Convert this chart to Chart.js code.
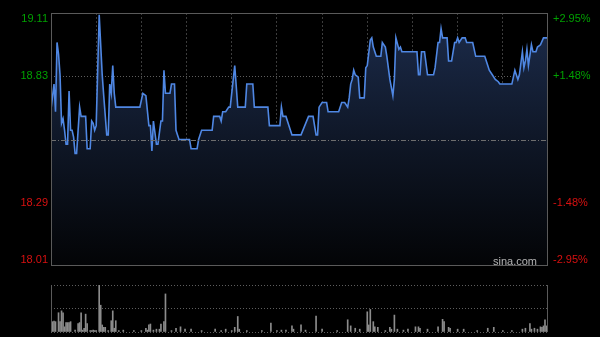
<!DOCTYPE html>
<html>
<head>
<meta charset="utf-8">
<script src="https://cdn.jsdelivr.net/npm/chart.js@4/dist/chart.umd.min.js"></script>
<style>
  html, body { margin: 0; padding: 0; background: #000; }
  body { width: 600px; height: 337px; position: relative; overflow: hidden; }
  canvas { position: absolute; left: 0; }
  #chart-price { top: 0; }
  #chart-volume { top: 278px; }
</style>
</head>
<body>
<canvas id="chart-price" width="600" height="272"></canvas>
<canvas id="chart-volume" width="600" height="59"></canvas>
<script>
// previous close and the +/- range shown on the axis
const prevClose = 18.56;
const rangePct = 0.0295;

// price line: minute of session (0 = 09:30, 330 = 16:00) and price
const priceMinutes = [
  0, 2, 3, 4, 5, 6, 7, 8, 9, 10,
  11, 12, 13, 14, 15, 16, 17, 19, 20, 23,
  24, 26, 27, 28, 29, 30, 32, 34, 35, 37,
  38, 39, 40, 41, 42, 43, 59, 61, 63, 65,
  66, 67, 68, 70, 71, 73, 74, 75, 76, 79,
  80, 82, 83, 84, 85, 92, 93, 97, 98, 100,
  107, 108, 112, 113, 114, 116, 118, 119, 122, 124,
  129, 130, 134, 135, 144, 145, 152, 153, 154, 156,
  158, 160, 166, 171, 174, 176, 177, 178, 180, 183,
  184, 191, 193, 195, 197, 198, 199, 200, 201, 202,
  204, 205, 208, 209, 210, 212, 213, 214, 216, 219,
  220, 222, 223, 225, 227, 228, 229, 231, 232, 233,
  243, 244, 245, 246, 248, 250, 254, 255, 257, 258,
  259, 260, 263, 264, 266, 268, 269, 270, 271, 273,
  275, 276, 280, 282, 288, 290, 291, 293, 295, 297,
  298, 306, 308, 310, 311, 313, 314, 315, 316, 317,
  319, 320, 322, 323, 325, 327, 330,
];
const prices = [
  18.69, 18.80, 18.68, 18.98, 18.93, 18.84, 18.63, 18.65, 18.60, 18.54,
  18.54, 18.77, 18.60, 18.60, 18.57, 18.50, 18.50, 18.70, 18.66, 18.66,
  18.52, 18.52, 18.64, 18.63, 18.60, 18.62, 19.10, 18.84, 18.75, 18.58,
  18.58, 18.80, 18.76, 18.88, 18.76, 18.70, 18.70, 18.76, 18.75, 18.62,
  18.62, 18.51, 18.64, 18.54, 18.54, 18.64, 18.64, 18.86, 18.76, 18.76,
  18.80, 18.80, 18.60, 18.58, 18.56, 18.56, 18.52, 18.52, 18.56, 18.60,
  18.60, 18.66, 18.66, 18.64, 18.68, 18.68, 18.70, 18.70, 18.88, 18.70,
  18.70, 18.80, 18.80, 18.70, 18.70, 18.62, 18.62, 18.70, 18.66, 18.66,
  18.62, 18.58, 18.58, 18.66, 18.66, 18.58, 18.58, 18.70, 18.72, 18.72,
  18.68, 18.68, 18.72, 18.72, 18.70, 18.74, 18.80, 18.82, 18.86, 18.84,
  18.83, 18.74, 18.74, 18.87, 18.88, 18.99, 19.00, 18.96, 18.92, 18.92,
  18.98, 18.96, 18.92, 18.82, 18.75, 18.82, 19.00, 18.95, 18.96, 18.94,
  18.94, 18.84, 18.84, 18.94, 18.94, 18.84, 18.84, 18.87, 18.98, 18.98,
  19.04, 19.00, 19.00, 18.90, 18.90, 18.98, 18.98, 19.00, 18.98, 19.00,
  19.00, 18.98, 18.98, 18.92, 18.92, 18.88, 18.86, 18.84, 18.82, 18.81,
  18.80, 18.80, 18.86, 18.82, 18.84, 18.94, 18.87, 18.90, 18.95, 18.88,
  18.97, 18.94, 18.94, 18.96, 18.97, 19.00, 19.00,
];

// volume bars (relative units, 100 = panel top)
const volMinutes = [
  1, 2, 3, 5, 6, 7, 8, 9, 10, 11,
  12, 13, 16, 18, 19, 20, 21, 22, 23, 24,
  26, 27, 28, 29, 30, 32, 33, 34, 35, 36,
  38, 40, 41, 42, 43, 45, 48, 55, 60, 63,
  64, 65, 66, 68, 70, 72, 73, 75, 76, 80,
  83, 86, 89, 93, 100, 109, 113, 116, 120, 122,
  124, 125, 130, 140, 146, 150, 153, 156, 160, 161,
  166, 169, 176, 180, 190, 197, 199, 202, 205, 210,
  211, 212, 214, 215, 217, 222, 225, 226, 228, 230,
  234, 237, 242, 244, 245, 250, 257, 260, 261, 264,
  265, 270, 274, 283, 290, 294, 300, 306, 313, 315,
  318, 319, 321, 323, 325, 326, 327, 328, 329, 330,
];
const volumes = [
  22, 23, 22, 41, 22, 45, 41, 11, 20, 20,
  20, 22, 4, 18, 20, 41, 4, 8, 38, 18,
  3, 3, 4, 3, 3, 100, 57, 15, 10, 10,
  3, 24, 45, 8, 24, 3, 4, 3, 3, 8,
  4, 15, 17, 4, 6, 6, 17, 22, 81, 3,
  8, 11, 6, 6, 3, 6, 3, 6, 3, 10,
  33, 6, 3, 3, 19, 3, 4, 4, 13, 6,
  15, 4, 34, 6, 3, 26, 13, 8, 6, 43,
  15, 48, 22, 11, 10, 3, 10, 6, 36, 6,
  4, 6, 11, 11, 8, 6, 11, 27, 22, 10,
  8, 6, 6, 3, 8, 10, 3, 3, 6, 8,
  18, 6, 8, 6, 11, 10, 13, 26, 13, 13,
];

// axis labels, top to bottom (middle line has no label)
const tickSteps = [1, 0.5, 0, -0.5, -1];
const leftLabels = ["19.11", "18.83", "", "18.29", "18.01"];
const rightLabels = ["+2.95%", "+1.48%", "", "-1.48%", "-2.95%"];

const tickValues = tickSteps.map((s) => prevClose * (1 + s * rangePct));
const priceMin = prevClose * (1 - rangePct);
const priceMax = prevClose * (1 + rangePct);

const UP = "#00a000";
const DOWN = "#d81010";
const FONT = "11px 'Liberation Sans', Arial, sans-serif";

const priceFrame = {
  id: "priceFrame",
  afterDatasetsDraw(chart) {
    const { ctx, chartArea: a, scales } = chart;
    // dash-dot line at previous close
    const yc = Math.round(scales.y.getPixelForValue(prevClose)) + 0.5;
    ctx.save();
    ctx.strokeStyle = "#6e6e6e";
    ctx.lineWidth = 1;
    ctx.setLineDash([5, 2, 1, 2]);
    ctx.beginPath();
    ctx.moveTo(a.left, yc);
    ctx.lineTo(a.right, yc);
    ctx.stroke();
    ctx.restore();
  },
  afterDraw(chart) {
    const { ctx, chartArea: a, scales } = chart;
    ctx.save();
    ctx.strokeStyle = "#5a5a5a";
    ctx.lineWidth = 1;
    ctx.strokeRect(a.left + 0.5, a.top + 0.5, a.right - a.left - 1, a.bottom - a.top - 1);

    ctx.font = FONT;
    ctx.textBaseline = "middle";
    tickValues.forEach((v, i) => {
      if (!leftLabels[i]) return;
      let y = scales.y.getPixelForValue(v);
      y = Math.min(Math.max(y, a.top + 6), a.bottom - 6);
      ctx.fillStyle = tickSteps[i] > 0 ? UP : DOWN;
      ctx.textAlign = "right";
      ctx.fillText(leftLabels[i], a.left - 3, y);
      ctx.textAlign = "left";
      ctx.fillText(rightLabels[i], a.right + 5, y);
    });

    ctx.fillStyle = "#b4b4b4";
    ctx.textAlign = "right";
    ctx.textBaseline = "alphabetic";
    ctx.fillText("sina.com", a.right - 11, a.bottom - 1);
    ctx.restore();
  },
};

const volumeFrame = {
  id: "volumeFrame",
  afterDraw(chart) {
    const { ctx, chartArea: a } = chart;
    ctx.save();
    ctx.strokeStyle = "#5a5a5a";
    ctx.lineWidth = 1;
    ctx.beginPath();
    ctx.moveTo(a.left + 0.5, a.top);
    ctx.lineTo(a.left + 0.5, a.bottom);
    ctx.moveTo(a.right - 0.5, a.top);
    ctx.lineTo(a.right - 0.5, a.bottom);
    ctx.stroke();
    ctx.restore();
  },
};

function fillGradient(context) {
  const chart = context.chart;
  const a = chart.chartArea;
  if (!a) return "rgba(0,0,0,0)";
  const g = chart.ctx.createLinearGradient(0, a.top, 0, a.bottom);
  g.addColorStop(0, "#1c2c4c");
  g.addColorStop(0.5, "#0f1727");
  g.addColorStop(1, "#030406");
  return g;
}

new Chart(document.getElementById("chart-price").getContext("2d"), {
  type: "line",
  data: {
    datasets: [
      {
        data: priceMinutes.map((m, i) => ({ x: m, y: prices[i] })),
        borderColor: "#4f87e3",
        borderWidth: 1.6,
        tension: 0,
        pointRadius: 0,
        fill: "start",
        backgroundColor: fillGradient,
      },
    ],
  },
  options: {
    responsive: false,
    animation: false,
    events: [],
    layout: { padding: { top: 13, bottom: 6, left: 0, right: 0 } },
    plugins: { legend: { display: false }, tooltip: { enabled: false } },
    scales: {
      x: {
        type: "linear",
        min: 0,
        max: 330,
        ticks: { display: false, stepSize: 30 },
        grid: {
          drawTicks: false,
          color: (c) => (c.index === 0 || c.index === 11 ? "rgba(0,0,0,0)" : "#3c3c3c"),
        },
        border: { display: false, dash: [2, 2] },
        afterFit: (s) => { s.height = 0; },
      },
      y: {
        position: "left",
        min: priceMin,
        max: priceMax,
        afterBuildTicks: (s) => { s.ticks = tickValues.slice().reverse().map((v) => ({ value: v })); },
        ticks: { display: false },
        grid: {
          drawTicks: false,
          color: (c) => (c.index === 1 || c.index === 3 ? "#5e5e5e" : "rgba(0,0,0,0)"),
        },
        border: { display: false, dash: [1, 2] },
        afterFit: (s) => { s.width = 51; },
      },
      y2: {
        position: "right",
        min: priceMin,
        max: priceMax,
        ticks: { display: false },
        grid: { display: false, drawTicks: false },
        border: { display: false },
        afterFit: (s) => { s.width = 52; },
      },
    },
  },
  plugins: [priceFrame],
});

new Chart(document.getElementById("chart-volume").getContext("2d"), {
  type: "bar",
  data: {
    datasets: [
      {
        data: volMinutes.map((m, i) => ({ x: m, y: volumes[i] })),
        backgroundColor: "#8c8c8c",
        barThickness: 1,
      },
    ],
  },
  options: {
    responsive: false,
    animation: false,
    events: [],
    layout: { padding: { top: 7, bottom: 5, left: 0, right: 52 } },
    plugins: { legend: { display: false }, tooltip: { enabled: false } },
    scales: {
      x: {
        type: "linear",
        min: 0,
        max: 330,
        offset: false,
        display: false,
      },
      y: {
        min: 0,
        max: 100,
        ticks: { display: false, stepSize: 50 },
        grid: { drawTicks: false, color: "#5e5e5e" },
        border: { display: false, dash: [1, 2] },
        afterFit: (s) => { s.width = 51; },
      },
    },
  },
  plugins: [volumeFrame],
});
</script>
</body>
</html>
